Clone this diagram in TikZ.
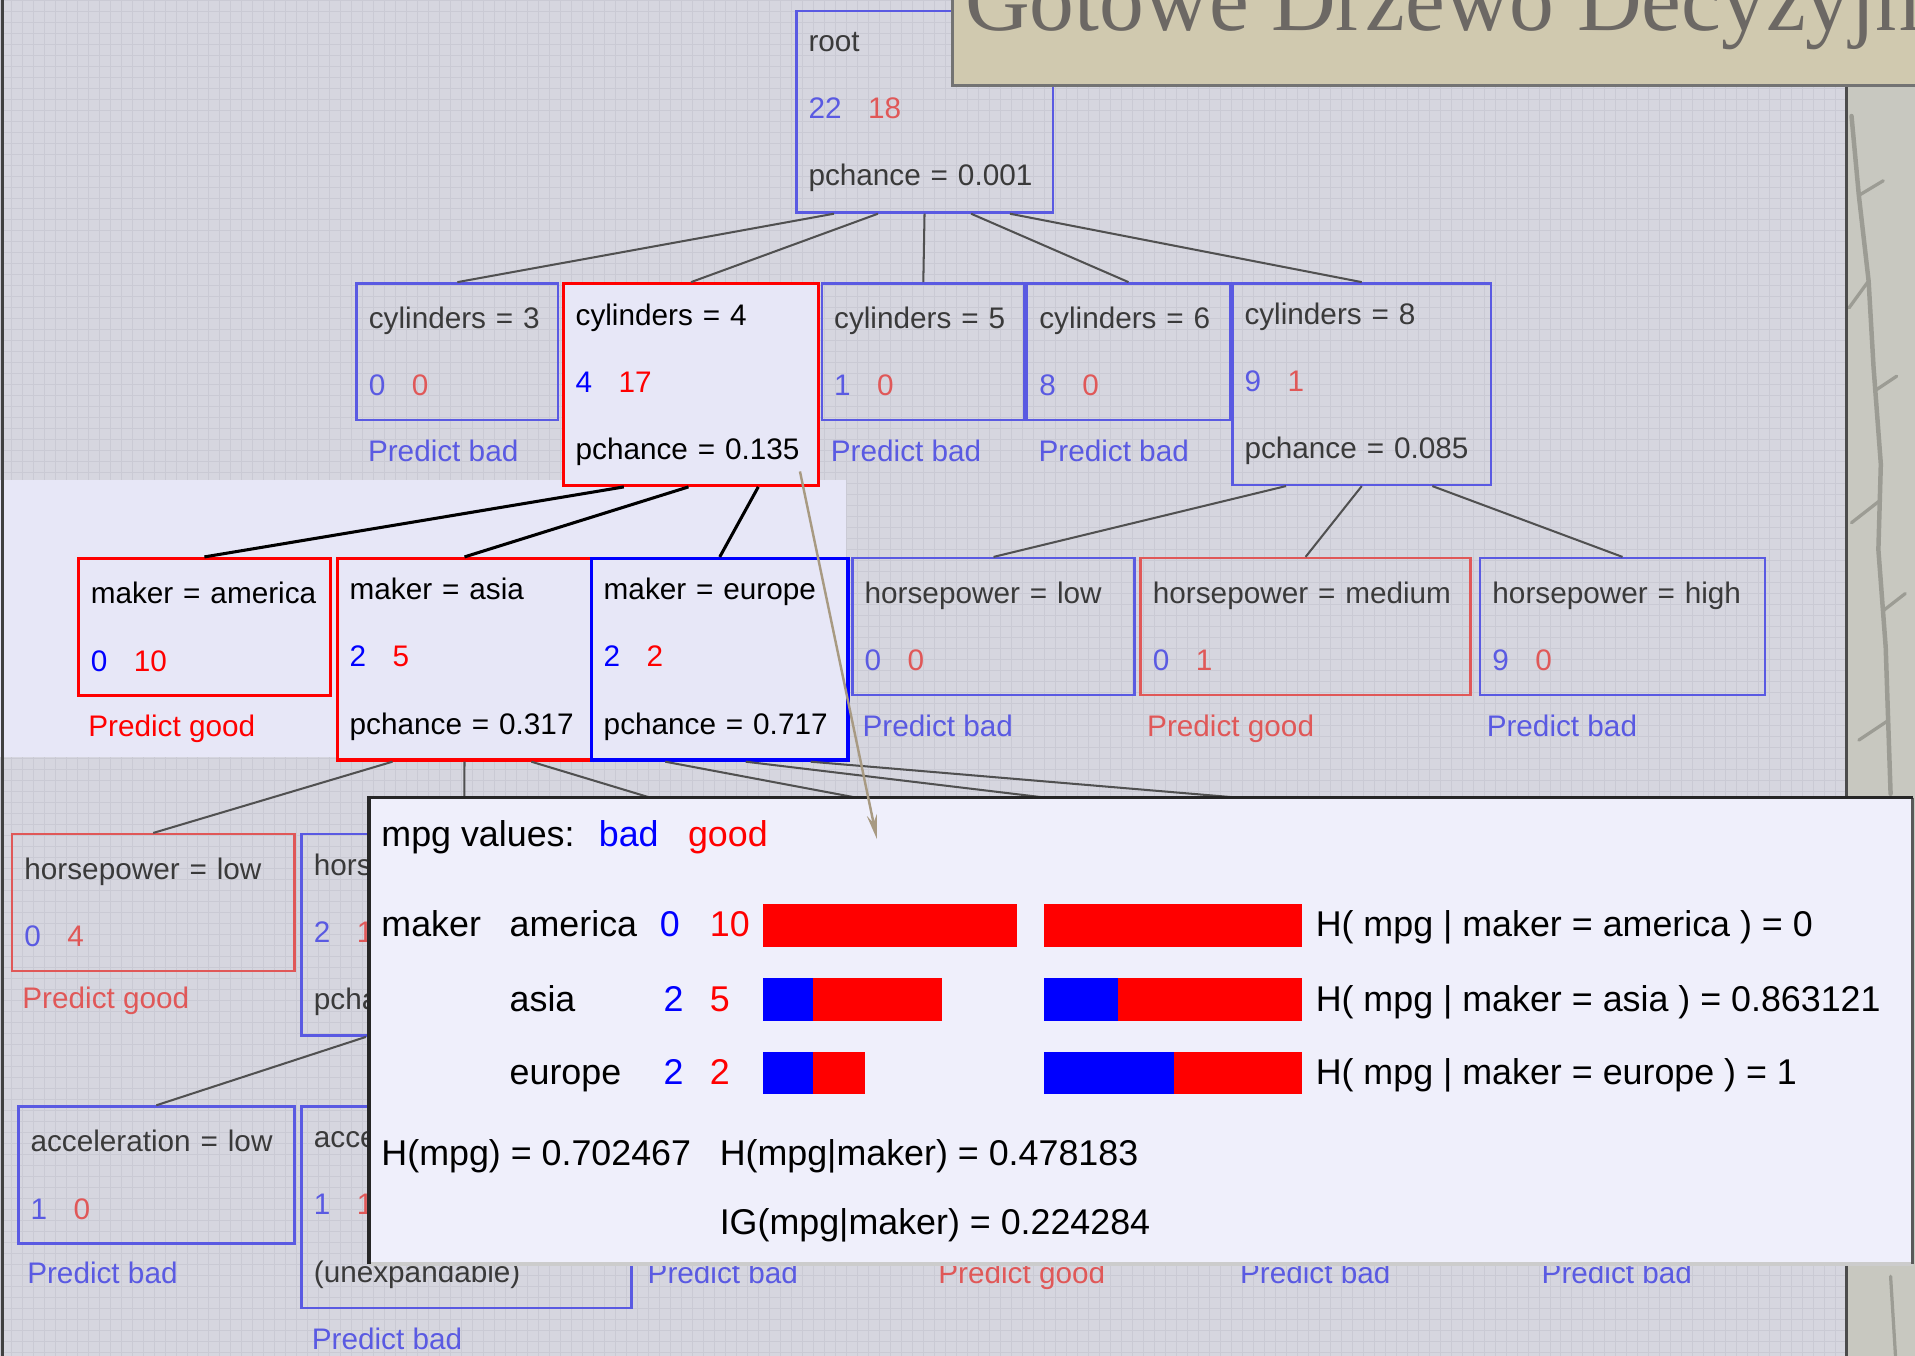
\documentclass[tikz,border=0pt]{standalone}
\usepackage{fontspec}
\setmainfont{Liberation Sans}
\newfontfamily\titlefont{Liberation Serif}
\usetikzlibrary{calc}
\usetikzlibrary{arrows.meta}

\definecolor{bgcol}{HTML}{D6D6DF}
\definecolor{gridcol}{HTML}{CACAD4}
\definecolor{bandcol}{HTML}{E7E7F7}
\definecolor{panelcol}{HTML}{EFEFFB}
\definecolor{fblue}{HTML}{5A5AE2}
\definecolor{fred}{HTML}{E05858}
\definecolor{hblue}{HTML}{0000FF}
\definecolor{hred}{HTML}{FF0000}
\definecolor{greytext}{HTML}{3A3A3A}
\definecolor{edgecol}{HTML}{505050}
\definecolor{titlecol}{HTML}{D0C9AF}
\definecolor{titletext}{HTML}{6C6864}
\definecolor{stripcol}{HTML}{C8C8C0}
\definecolor{twigcol}{HTML}{9C9C94}
\definecolor{pointercol}{HTML}{A89A82}

\newcommand{\greycounts}[2]{\textcolor{fblue}{#1}\hspace{13pt}\textcolor{fred}{#2}}
\newcommand{\hotcounts}[2]{\textcolor{hblue}{#1}\hspace{13pt}\textcolor{hred}{#2}}

\begin{document}
\begin{tikzpicture}[x=0.6pt,y=-0.6pt]
		\tikzset{tbox/.style={draw=fblue, line width=1.2pt, anchor=north west, align=left, inner xsep=6pt, inner ysep=0pt, text=greytext, font=\fontsize{14.6pt}{33pt}\selectfont},
			leaf/.style={minimum height=67.2pt},
			split/.style={minimum height=99pt},
			hot/.style={line width=1.6pt, text=black, fill=bandcol},
			pred/.style={anchor=base west, inner sep=0pt, font=\fontsize{14.6pt}{17pt}\selectfont},
			info/.style={anchor=base west, inner sep=0pt, font=\fontsize{17.6pt}{21pt}\selectfont},
			edge/.style={draw=edgecol, line width=1pt},
			hotedge/.style={draw=black, line width=1.5pt}}
		\useasboundingbox (0,0) rectangle (1568,1110);
		
		%Tlo
		\fill[bgcol] (0,0) rectangle (1568,1110);
		\foreach \gx in {0,9,...,1568} \draw[gridcol, line width=0.35pt] (\gx,0) -- (\gx,1110);
		\foreach \gy in {0,9,...,1110} \draw[gridcol, line width=0.35pt] (0,\gy) -- (1568,\gy);
		\fill[bandcol] (0,393) rectangle (693,620);
		\fill[stripcol] (1512,70) rectangle (1568,1110);
		\draw[twigcol, line width=2.2pt, line cap=round] (1516,95) -- (1522,160) -- (1530,230) -- (1534,300) -- (1540,380) -- (1538,450) -- (1544,530) -- (1548,650);
		\draw[twigcol, line width=1.6pt, line cap=round] (1522,160) -- (1542,148) (1530,230) -- (1514,252) (1535,320) -- (1553,308) (1539,410) -- (1516,428) (1542,500) -- (1560,486) (1546,590) -- (1522,606) (1548,1045) -- (1552,1110);
		\draw[black!70, line width=1.2pt] (1512,70) -- (1512,1110);
		\draw[black!75, line width=1.2pt] (2,0) -- (2,1110);
		
		%Wezly
		\node (root) at (651,8) [tbox, split, text width=114pt] {root\\ \greycounts{22}{18}\\ pchance = 0.001};
		
		\node (cylthree) at (291,231) [tbox, leaf, text width=87pt] {cylinders = 3\\ \greycounts{0}{0}};
		\node (cylfour) at (460,231) [tbox, split, hot, draw=hred, text width=113.4pt] {cylinders = 4\\ \hotcounts{4}{17}\\ pchance = 0.135};
		\node (cylfive) at (672,231) [tbox, leaf, text width=87.6pt] {cylinders = 5\\ \greycounts{1}{0}};
		\node (cylsix) at (840,231) [tbox, leaf, text width=87.6pt] {cylinders = 6\\ \greycounts{8}{0}};
		\node (cyleight) at (1008,231) [tbox, split, text width=115.2pt] {cylinders = 8\\ \greycounts{9}{1}\\ pchance = 0.085};
		\node (predthree) at (301,378) [pred, text=fblue] {Predict bad};
		\node (predfive) at (680,378) [pred, text=fblue] {Predict bad};
		\node (predsix) at (850,378) [pred, text=fblue] {Predict bad};
		
		\node (america) at (63,456) [tbox, leaf, hot, draw=hred, text width=111.6pt] {maker = america\\ \hotcounts{0}{10}};
		\node (asia) at (275,456) [tbox, split, hot, draw=hred, text width=112.8pt] {maker = asia\\ \hotcounts{2}{5}\\ pchance = 0.317};
		\node (europe) at (483,456) [tbox, split, hot, draw=hblue, text width=114pt] {maker = europe\\ \hotcounts{2}{2}\\ pchance = 0.717};
		\node (hplow) at (697,456) [tbox, leaf, text width=126.6pt] {horsepower = low\\ \greycounts{0}{0}};
		\node (hpmedium) at (933,456) [tbox, leaf, draw=fred, text width=150pt] {horsepower = medium\\ \greycounts{0}{1}};
		\node (hphigh) at (1211,456) [tbox, leaf, text width=127.8pt] {horsepower = high\\ \greycounts{9}{0}};
		\node (predamerica) at (72,603) [pred, text=hred] {Predict good};
		\node (predhplow) at (706,603) [pred, text=fblue] {Predict bad};
		\node (predhpmedium) at (939,603) [pred, text=fred] {Predict good};
		\node (predhphigh) at (1217,603) [pred, text=fblue] {Predict bad};
		
		\node (hplowasia) at (9,682) [tbox, leaf, draw=fred, text width=126.6pt] {horsepower = low\\ \greycounts{0}{4}};
		\node (hpasia) at (246,682) [tbox, split, text width=147.6pt] {horse\\ \greycounts{2}{1}\\ pcha};
		\node (predhplowasia) at (18,826) [pred, text=fred] {Predict good};
		\coordinate (hiddenc) at (628,682);
		\coordinate (hiddend) at (855,682);
		\coordinate (hiddene) at (1097,682);
		\coordinate (hiddenf) at (1357,682);
		
		\node (acclow) at (14,905) [tbox, leaf, text width=123.6pt] {acceleration = low\\ \greycounts{1}{0}};
		\node (accasia) at (246,905) [tbox, split, text width=150pt] {accel\\ \greycounts{1}{1}\\ (unexpandable)};
		\node (predacclow) at (22,1051) [pred, text=fblue] {Predict bad};
		\node (predaccasia) at (255,1105) [pred, text=fblue] {Predict bad};
		\node (predhiddena) at (530,1051) [pred, text=fblue] {Predict bad};
		\node (predhiddenb) at (768,1051) [pred, text=fred] {Predict good};
		\node (predhiddenc) at (1015,1051) [pred, text=fblue] {Predict bad};
		\node (predhiddend) at (1262,1051) [pred, text=fblue] {Predict bad};
		
		%Krawedzie
		\draw[edge] ($(root.south west)!0.15!(root.south east)$) -- (cylthree.north);
		\draw[edge] ($(root.south west)!0.32!(root.south east)$) -- (cylfour.north);
		\draw[edge] ($(root.south west)!0.5!(root.south east)$) -- (cylfive.north);
		\draw[edge] ($(root.south west)!0.68!(root.south east)$) -- (cylsix.north);
		\draw[edge] ($(root.south west)!0.83!(root.south east)$) -- (cyleight.north);
		\draw[hotedge] ($(cylfour.south west)!0.24!(cylfour.south east)$) -- (america.north);
		\draw[hotedge] ($(cylfour.south west)!0.49!(cylfour.south east)$) -- (asia.north);
		\draw[hotedge] ($(cylfour.south west)!0.76!(cylfour.south east)$) -- (europe.north);
		\draw[edge] ($(cyleight.south west)!0.21!(cyleight.south east)$) -- (hplow.north);
		\draw[edge] ($(cyleight.south west)!0.5!(cyleight.south east)$) -- (hpmedium.north);
		\draw[edge] ($(cyleight.south west)!0.77!(cyleight.south east)$) -- (hphigh.north);
		\draw[edge] ($(asia.south west)!0.22!(asia.south east)$) -- (hplowasia.north);
		\draw[edge] ($(asia.south west)!0.5!(asia.south east)$) -- (hpasia.north);
		\draw[edge] ($(asia.south west)!0.76!(asia.south east)$) -- (hiddenc);
		\draw[edge] ($(europe.south west)!0.29!(europe.south east)$) -- (hiddend);
		\draw[edge] ($(europe.south west)!0.6!(europe.south east)$) -- (hiddene);
		\draw[edge] ($(europe.south west)!0.85!(europe.south east)$) -- (hiddenf);
		\draw[edge] ($(hpasia.south west)!0.2!(hpasia.south east)$) -- (acclow.north);
		
		%Tytul
		\fill[titlecol] (780,-5) rectangle (1570,70);
		\draw[black!55, line width=1.2pt] (780,-5) -- (780,70) -- (1570,70);
		\node (title) at (790,25) [anchor=base west, inner sep=0pt, text=titletext, font=\titlefont\fontsize{44pt}{50pt}\selectfont] {Gotowe Drzewo Decyzyjne};
		
		%Okno
		\fill[panelcol] (302,653) rectangle (1566,1035);
		\draw[black!20, line width=2.2pt] (302,1035) -- (1566,1035);
		\draw[black!65, line width=1.4pt] (1566,653) -- (1566,1035);
		\draw[black!85, line width=1.8pt] (302,1035) -- (302,653) -- (1566,653);
		
		\node (mpgvalues) at (312,693) [info] {mpg values:};
		\node (badkey) at (490,693) [info, text=hblue] {bad};
		\node (goodkey) at (563,693) [info, text=hred] {good};
		\node (makerattr) at (312,767) [info] {maker};
		\node (rowamerica) at (417,767) [info] {america};
		\node (badamerica) at (540,767) [info, text=hblue] {0};
		\node (goodamerica) at (581,767) [info, text=hred] {10};
		\node (rowasia) at (417,828) [info] {asia};
		\node (badasia) at (543,828) [info, text=hblue] {2};
		\node (goodasia) at (581,828) [info, text=hred] {5};
		\node (roweurope) at (417,888) [info] {europe};
		\node (badeurope) at (543,888) [info, text=hblue] {2};
		\node (goodeurope) at (581,888) [info, text=hred] {2};
		
		\fill[hred] (625,740) rectangle (833,775);
		\fill[hred] (855,740) rectangle (1066,775);
		\fill[hblue] (625,801) rectangle (666,836);
		\fill[hred] (666,801) rectangle (771,836);
		\fill[hblue] (855,801) rectangle (915,836);
		\fill[hred] (915,801) rectangle (1066,836);
		\fill[hblue] (625,861) rectangle (666,896);
		\fill[hred] (666,861) rectangle (708,896);
		\fill[hblue] (855,861) rectangle (961,896);
		\fill[hred] (961,861) rectangle (1066,896);
		
		\node (hamerica) at (1077,767) [info] {H( mpg | maker = america ) = 0};
		\node (hasia) at (1077,828) [info] {H( mpg | maker = asia ) = 0.863121};
		\node (heurope) at (1077,888) [info] {H( mpg | maker = europe ) = 1};
		\node (hmpg) at (312,954) [info] {H(mpg) = 0.702467};
		\node (hmpgmaker) at (589,954) [info] {H(mpg|maker) = 0.478183};
		\node (igmpgmaker) at (589,1011) [info] {IG(mpg|maker) = 0.224284};
		
		%Strzalka
		\coordinate (pointerstart) at (655,386);
		\coordinate (pointerend) at (718,687);
		\draw[-{Stealth[length=12pt,width=5pt]}, pointercol, line width=1.2pt] (pointerstart) -- (pointerend);
	\end{tikzpicture}
\end{document}
